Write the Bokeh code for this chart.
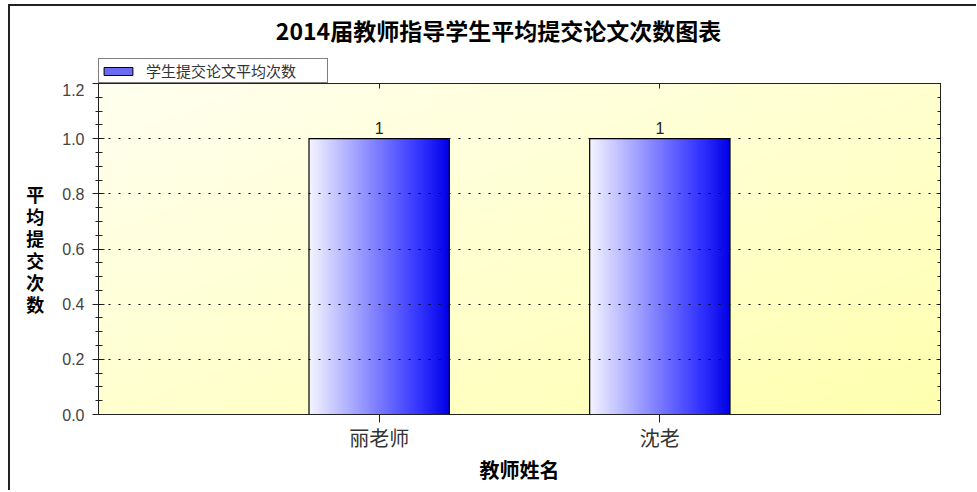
import numpy as np
from bokeh.plotting import figure
from bokeh.layouts import column
from bokeh.models import (Range1d, FixedTicker, LinearAxis, Legend, LegendItem,
                          PrintfTickFormatter, Label)
from bokeh.embed import file_html
from bokeh.resources import INLINE

# ---- data ----
title_text = "2014届教师指导学生平均提交论文次数图表"
categories = ["丽老师", "沈老"]
values = [1, 1]
value_labels = ["1", "1"]
series_name = "学生提交论文平均次数"
y_ticks = [0.0, 0.2, 0.4, 0.6, 0.8, 1.0, 1.2]
x_label = "教师姓名"
y_label = "平均提交次数"

positions = [i + 1 for i in range(len(categories))]
BAR_W = 0.5
minor = [round(i * 0.05, 2) for i in range(25)]
XMAX = len(categories) + 1

# ---------------- header: title + legend ----------------
HEAD_H = 77
head = figure(width=966, height=HEAD_H, output_backend="svg", toolbar_location=None,
              x_range=Range1d(0, XMAX), y_range=Range1d(100, 100 + HEAD_H),
              x_axis_location=None, y_axis_location=None,
              min_border_left=88, min_border_right=36, min_border_top=0,
              min_border_bottom=0, outline_line_color=None,
              background_fill_color="white", border_fill_color="white")
head.grid.visible = False
# swatch source: the same bars (outside this header's visible range)
leg_r = head.vbar(x=positions, top=values, width=BAR_W, fill_color="#6a6af2",
                  line_color="black")
head.add_layout(Label(x=XMAX / 2, y=100 + HEAD_H - 23, text=title_text,
                      text_align="center", text_baseline="middle", x_offset=-21,
                      text_font="Noto Sans CJK SC", text_font_size="23px",
                      text_font_style="bold", text_color="black"))
legend = Legend(items=[LegendItem(label=series_name, renderers=[leg_r])],
                location="bottom_left", orientation="horizontal",
                border_line_color="black", border_line_width=1,
                background_fill_color="white", background_fill_alpha=1,
                margin=0, padding=1, glyph_width=36, glyph_height=10,
                label_text_font="Noto Sans CJK SC", label_text_font_size="15px",
                label_text_color="#333", label_standoff=10, label_height=12,
                label_width=180)
head.add_layout(legend, "center")

# ---------------- main chart ----------------
p = figure(width=966, height=484 - HEAD_H, output_backend="svg", toolbar_location=None,
           x_range=Range1d(0, XMAX), y_range=Range1d(0, 1.2),
           min_border_left=88, min_border_right=36, min_border_top=0,
           min_border_bottom=76, background_fill_color="#ffffd0",
           border_fill_color="white")

# background gradient of the plotting area
n = 120
yy, xx = np.mgrid[0:n, 0:n] / (n - 1)
t = (xx + (1 - yy)) / 2.0  # 0 at top-left, 1 at bottom-right
img = np.zeros((n, n), dtype=np.uint32)
view = img.view(dtype=np.uint8).reshape((n, n, 4))
view[:, :, 0] = 255
view[:, :, 1] = 255
view[:, :, 2] = (240 - 65 * t).astype(np.uint8)
view[:, :, 3] = 255
p.image_rgba(image=[img], x=0, y=0, dw=XMAX, dh=1.2)

# grid
p.xgrid.visible = False
p.ygrid.ticker = FixedTicker(ticks=y_ticks[1:-1])
p.ygrid.grid_line_color = "black"
p.ygrid.grid_line_dash = "2 8"
p.ygrid.grid_line_width = 1
p.ygrid.level = "overlay"

# gradient bars: one gradient image per bar, sized by the data
ns = 200
grad = np.zeros((1, ns), dtype=np.uint32)
gv = grad.view(dtype=np.uint8).reshape((1, ns, 4))
for k in range(ns):
    tt = k / (ns - 1)
    c = int(244 * (1 - tt))
    b = int(255 - 25 * max(0.0, tt - 0.8) / 0.2)
    gv[0, k] = (c, c, b, 255)
p.image_rgba(image=[grad] * len(values), x=[pp - BAR_W / 2 for pp in positions],
             y=[0] * len(values), dw=[BAR_W] * len(values), dh=values)
p.vbar(x=positions, top=values, width=BAR_W, fill_color=None,
       line_color="black", line_width=1.2)

# value labels
p.text(x=positions, y=values, text=value_labels, text_align="center",
       text_baseline="bottom", y_offset=-5, text_font_size="16px",
       text_color="#222", text_font={"value": "Liberation Sans"})

# axes
ax = p.xaxis[0]
ax.ticker = FixedTicker(ticks=positions)
ax.major_label_overrides = {pp: c for pp, c in zip(positions, categories)}
ax.major_tick_in = 0
ax.major_tick_out = 8
ax.minor_tick_line_color = None
ax.axis_line_color = "#222"
ax.major_tick_line_color = "#222"
ax.major_label_text_font = "Noto Sans CJK SC"
ax.major_label_text_font_size = "20px"
ax.major_label_text_color = "#333"
ax.major_label_standoff = 0
ax.axis_label = x_label
ax.axis_label_text_font = "Noto Sans CJK SC"
ax.axis_label_text_font_size = "20px"
ax.axis_label_text_font_style = "bold"
ax.axis_label_text_color = "black"
ax.axis_label_standoff = 0

ay = p.yaxis[0]
ay.ticker = FixedTicker(ticks=y_ticks, minor_ticks=minor)
ay.formatter = PrintfTickFormatter(format="%.1f")
ay.major_tick_in = 6
ay.major_tick_out = 6
ay.minor_tick_in = 4
ay.minor_tick_out = 3
ay.axis_line_color = "#222"
ay.major_tick_line_color = "#222"
ay.minor_tick_line_color = "#222"
ay.major_label_text_font = "Liberation Sans"
ay.major_label_text_font_size = "16px"
ay.major_label_text_color = "#444"
ay.major_label_standoff = 8
ay.axis_label = "\n".join(y_label)
ay.axis_label_orientation = "horizontal"
ay.axis_label_text_font = "Noto Sans CJK SC"
ay.axis_label_text_font_size = "18px"
ay.axis_label_text_font_style = "bold"
ay.axis_label_text_color = "black"
ay.axis_label_text_line_height = 0.85
ay.axis_label_standoff = 15

ry = LinearAxis(ticker=FixedTicker(ticks=y_ticks, minor_ticks=minor),
                major_label_text_color=None, major_label_text_font_size="1px",
                major_tick_in=4, major_tick_out=0,
                minor_tick_in=3, minor_tick_out=0, axis_line_color="#222",
                major_label_standoff=0,
                major_tick_line_color="#222", minor_tick_line_color="#222")
p.add_layout(ry, "right")
tx = LinearAxis(ticker=FixedTicker(ticks=positions),
                major_label_text_color=None, major_label_text_font_size="1px",
                major_tick_in=5, major_tick_out=0, minor_tick_line_color=None,
                major_label_standoff=0,
                axis_line_color="#222", major_tick_line_color="#222")
p.add_layout(tx, "above")

p.outline_line_color = "#222"

layout = column(head, p, spacing=0)
layout.styles = {"border-left": "2px solid #222", "border-top": "2px solid #222",
                 "margin-top": "4px", "margin-left": "8px"}

open("out.html", "w").write(file_html(layout, INLINE))
